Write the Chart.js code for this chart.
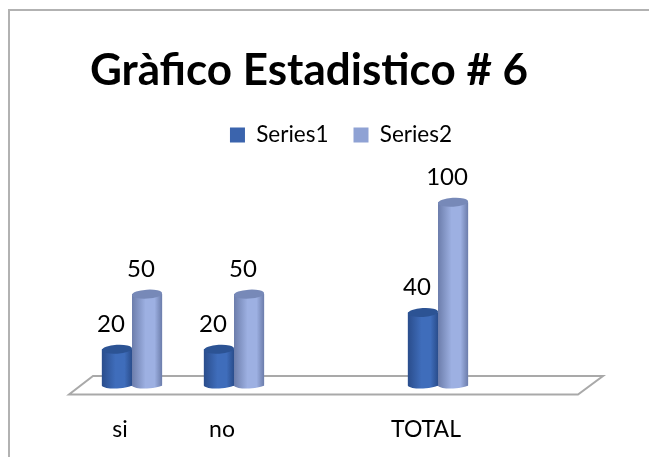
<!DOCTYPE html>
<html>
<head>
<meta charset="utf-8">
<script src="https://cdn.jsdelivr.net/npm/chart.js@4/dist/chart.umd.min.js"></script>
<style>
html,body{margin:0;padding:0;background:#fff;}
#wrap{position:absolute;left:0;top:0;width:649px;height:457px;overflow:hidden;}
#frame{position:absolute;left:8px;top:9px;width:700px;height:500px;border:2px solid #b2b2b2;box-sizing:border-box;}
canvas{position:absolute;left:0;top:0;}
</style>
</head>
<body>
<div id="wrap"><div id="frame"></div><canvas id="c" width="649" height="457"></canvas></div>
<script>
const categories = ['si', 'no', '', 'TOTAL', ''];
const series1 = [20, 20, null, 40, null];
const series2 = [50, 50, null, 100, null];
const seriesNames = ['Series1', 'Series2'];
const chartTitle = 'Gràfico Estadistico # 6';
const FONT = 'Lato, Carlito, sans-serif';

const palettes = [
  {flat:'#3b64ad', edge:'#2a4d8c', mid:'#3f6dbb', cap:'#2c5394'},
  {flat:'#8fa2d4', edge:'#6c7dab', mid:'#9db0e2', cap:'#7789b8'}
];

const cylinders = {
  id:'cylinders',
  afterLayout(chart){
    chart.titleBlock.left -= 27; chart.titleBlock.right -= 27;
    chart.legend.left += 5; chart.legend.right += 5;
  },
  beforeDatasetsDraw(chart){
    const a = chart.chartArea, yb = chart.scales.y.getPixelForValue(0), g = chart.ctx;
    g.save();
    g.strokeStyle = '#a9a9a9'; g.lineWidth = 2; g.fillStyle = '#fff';
    g.beginPath();
    g.moveTo(a.left - 12, yb + 8.5);
    g.lineTo(a.right - 13, yb + 8.5);
    g.lineTo(a.right + 12, yb - 10);
    g.lineTo(a.left + 12, yb - 10);
    g.closePath(); g.fill(); g.stroke();
    g.restore();
  },
  afterDatasetsDraw(chart){
    const g = chart.ctx;
    chart.data.datasets.forEach((ds, di) => {
      const p = palettes[di];
      chart.getDatasetMeta(di).data.forEach((bar, i) => {
        if (ds.data[i] == null) return;
        const l = bar.x - bar.width/2, r = bar.x + bar.width/2, rx = bar.width/2;
        const grad = g.createLinearGradient(l, 0, r, 0);
        grad.addColorStop(0, p.edge);
        grad.addColorStop(0.45, p.mid);
        grad.addColorStop(0.75, p.mid);
        grad.addColorStop(1, p.edge);
        g.save();
        g.fillStyle = grad;
        g.beginPath();
        g.moveTo(l, bar.y);
        g.lineTo(l, bar.base - 1);
        g.ellipse(bar.x, bar.base - 1, rx, 3.5, -0.04, Math.PI, 0, true);
        g.lineTo(r, bar.y);
        g.closePath(); g.fill();
        g.fillStyle = p.cap;
        g.beginPath();
        g.ellipse(bar.x, bar.y, rx, 4.5, -0.06, 0, Math.PI*2);
        g.fill();
        g.fillStyle = '#000';
        g.font = '24px ' + FONT;
        g.textAlign = 'center'; g.textBaseline = 'middle';
        g.fillText(String(ds.data[i]), bar.x - 6, bar.y - 25);
        g.restore();
      });
    });
  }
};

new Chart(document.getElementById('c'), {
  type:'bar',
  data:{
    labels:categories,
    datasets:[
      {label:seriesNames[0], data:series1, backgroundColor:palettes[0].flat, borderWidth:0},
      {label:seriesNames[1], data:series2, backgroundColor:palettes[1].flat, borderWidth:0}
    ]
  },
  options:{
    responsive:false, animation:false,
    layout:{padding:{left:81, right:58, top:44, bottom:0}},
    datasets:{bar:{categoryPercentage:0.59, barPercentage:1}},
    plugins:{
      tooltip:{enabled:false},
      title:{display:true, text:chartTitle, color:'#000',
        font:{family:FONT, size:44, weight:'bold'}, padding:{top:0, bottom:2}, align:'center'},
      legend:{display:true, position:'top',
        labels:{boxWidth:15, boxHeight:15, padding:25, color:'#000',
          font:{family:FONT, size:22.5}}}
    },
    scales:{
      x:{grid:{display:false}, border:{display:false},
        afterFit(scale){ scale.height = 71; },
        ticks:{color:'#000', font:{family:FONT, size:23}, padding:22, autoSkip:false,
          maxRotation:0, labelOffset:-12}},
      y:{display:false, min:0, max:125}
    }
  },
  plugins:[cylinders]
});
</script>
</body>
</html>
